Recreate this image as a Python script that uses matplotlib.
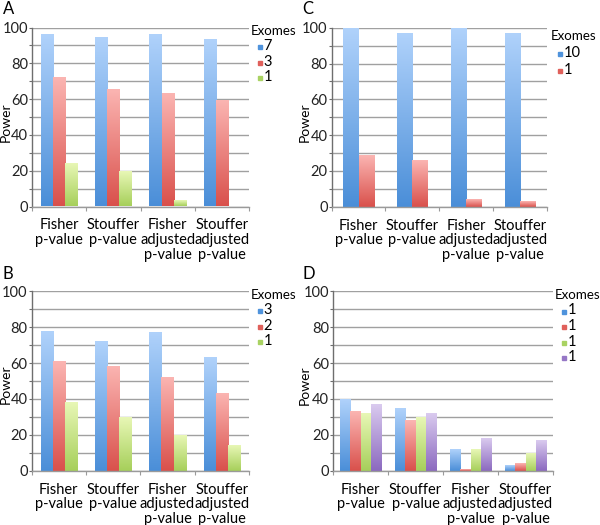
import matplotlib
matplotlib.use('Agg')
import matplotlib.pyplot as plt
import numpy as np
from matplotlib.colors import LinearSegmentedColormap
from matplotlib.lines import Line2D

plt.rcParams['font.family'] = ['Lato', 'DejaVu Sans']

categories = ["Fisher\np-value", "Stouffer\np-value",
              "Fisher\nadjusted\np-value", "Stouffer\nadjusted\np-value"]

# Panel A
a_labels = ["7", "3", "1"]
a_7 = [96, 94, 96, 93]
a_3 = [72, 65, 63, 59]
a_1 = [24, 19, 3, 0]

# Panel B
b_labels = ["3", "2", "1"]
b_3 = [78, 72, 77, 63]
b_2 = [61, 58, 52, 43]
b_1 = [38, 30, 20, 14]

# Panel C
c_labels = ["10", "1"]
c_10 = [100, 97, 100, 97]
c_1 = [29, 26, 4, 3]

# Panel D
d_labels = ["1", "1", "1", "1"]
d_s1 = [40, 35, 12, 3]
d_s2 = [33, 28, 1, 4]
d_s3 = [32, 30, 12, 10]
d_s4 = [37, 32, 18, 17]

yticks = [0, 20, 40, 60, 80, 100]

# (bottom colour, top colour, legend marker colour)
PALETTE = [
    ("#4a8ed8", "#b0d2fb", "#4f93dc"),
    ("#d9504b", "#fbb5b2", "#e0605b"),
    ("#a6cf5a", "#e8f7b6", "#a9d262"),
    ("#8b69bf", "#dacbef", "#9677c6"),
]

W, H = 600, 525
fig = plt.figure(figsize=(W / 100, H / 100), dpi=100)


def px_rect(left, right, top, bottom):
    return [left / W, 1 - bottom / H, (right - left) / W, (bottom - top) / H]


def panel(rect, series, labels, group_width, letter, letter_xy, ylabel_xy,
          legend_xy, legend_step):
    ax = fig.add_axes(px_rect(*rect))
    n = len(series)
    x = np.arange(len(categories))
    w = group_width / n
    grad = np.linspace(0, 1, 256).reshape(-1, 1)
    for i, vals in enumerate(series):
        bot, top, _ = PALETTE[i]
        cmap = LinearSegmentedColormap.from_list(f"g{i}", [bot, top])
        offs = (i - (n - 1) / 2) * w
        bars = ax.bar(x + offs, vals, width=w, color='none',
                      edgecolor='none', zorder=2)
        for b in bars:
            h = b.get_height()
            if h <= 0:
                continue
            x0 = b.get_x()
            ax.imshow(grad, extent=[x0, x0 + w, 0, h], aspect='auto',
                      cmap=cmap, origin='lower', zorder=2,
                      interpolation='bilinear')
    ax.set_xlim(-0.5, len(categories) - 0.5)
    ax.set_ylim(0, 100)
    ax.set_yticks(yticks)
    ax.set_yticks(range(0, 101, 10), minor=True)
    ax.yaxis.grid(True, which='both', color='#a0a0a0', lw=1.0, zorder=0)
    ax.set_axisbelow(True)
    for s in ['top', 'right']:
        ax.spines[s].set_visible(False)
    ax.spines['left'].set_color('#6e6e6e')
    ax.spines['bottom'].set_color('#9a9a9a')
    ax.spines['left'].set_linewidth(1.0)
    ax.spines['bottom'].set_linewidth(1.0)
    ax.tick_params(axis='y', which='both', length=2, width=0.8,
                   color='#6e6e6e', pad=1.0, labelsize=10.5,
                   labelcolor='#222222')
    ax.set_xticks(np.arange(-0.5, len(categories)))
    ax.set_xticklabels([])
    ax.tick_params(axis='x', which='major', length=3, width=0.8,
                   color='#9a9a9a')
    ax.set_xticks(x, minor=True)
    ax.set_xticklabels(categories, minor=True, fontsize=10.5)
    ax.tick_params(axis='x', which='minor', length=0, pad=8.5)
    for t in ax.get_xticklabels(minor=True):
        t.set_linespacing(1.08)
    ax.patch.set_alpha(0)

    fig.text(letter_xy[0] / W, 1 - letter_xy[1] / H, letter, fontsize=12,
             ha='left', va='top')
    fig.text(ylabel_xy[0] / W, 1 - ylabel_xy[1] / H, "Power", fontsize=10,
             rotation=90, ha='center', va='center')
    lx, ly = legend_xy
    fig.text(lx / W, 1 - ly / H, "Exomes", fontsize=9.6, ha='left',
             va='center')
    for i, lab in enumerate(labels):
        yy = ly + legend_step * (i + 1)
        fig.add_artist(Line2D([(lx + 9) / W], [1 - (yy + 1) / H], marker='s',
                              markersize=2.8, color=PALETTE[i][2], lw=0,
                              transform=fig.transFigure))
        fig.text((lx + 12.5) / W, 1 - yy / H, lab, fontsize=10.5, ha='left',
                 va='center')
    return ax


panel((32, 249, 27.5, 206.5), [a_7, a_3, a_1], a_labels, 0.675,
      "A", (3, 1), (6, 122), (251, 31), 15.3)
panel((331.7, 546.7, 27.7, 206.7), [c_10, c_1], c_labels, 0.57,
      "C", (302, 1), (305, 122), (551, 36), 17)
panel((31.7, 249, 291.3, 470.7), [b_3, b_2, b_1], b_labels, 0.675,
      "B", (3, 266), (6, 384), (251, 295), 15.3)
panel((333, 553, 291.3, 470.7), [d_s1, d_s2, d_s3, d_s4], d_labels, 0.73,
      "D", (302, 266), (305, 385), (555, 295), 15.5)

fig.savefig("out.png", dpi=100)
